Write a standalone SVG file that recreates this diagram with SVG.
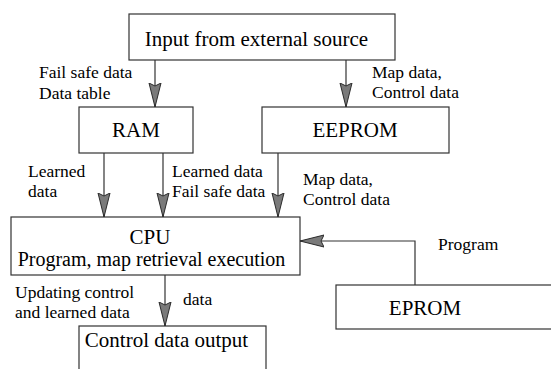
<svg xmlns="http://www.w3.org/2000/svg" width="551" height="369" viewBox="0 0 551 369" font-family="Liberation Serif, serif">
  <style>
    .box { fill: #ffffff; stroke: #333333; stroke-width: 1.2; }
    .conn { fill: none; stroke: #333333; stroke-width: 1.2; marker-end: url(#arrow); }
  </style>
  <defs>
    <marker id="arrow" markerUnits="userSpaceOnUse" markerWidth="26" markerHeight="14" refX="24" refY="7" orient="auto">
      <path d="M0,1 L24,7 L0,13 L3,7 Z" fill="#7a7a7a" stroke="#2a2a2a" stroke-width="1"/>
    </marker>
  </defs>
  <rect width="551" height="369" fill="#ffffff"/>

  <g id="input">
    <rect class="box" x="129" y="14" width="266" height="46"/>
    <text x="256.5" y="46" style="font-family: 'Liberation Serif'; font-size: 21px; text-anchor: middle">Input from external source</text>
  </g>
  <g id="ram">
    <rect class="box" x="79" y="107" width="114" height="46"/>
    <text x="136" y="137" style="font-family: 'Liberation Serif'; font-size: 21px; text-anchor: middle">RAM</text>
  </g>
  <g id="eeprom">
    <rect class="box" x="262" y="107" width="187" height="46"/>
    <text x="355" y="137" style="font-family: 'Liberation Serif'; font-size: 21px; text-anchor: middle">EEPROM</text>
  </g>
  <g id="cpu">
    <rect class="box" x="11" y="217" width="289" height="58"/>
    <text x="150" y="244" style="font-family: 'Liberation Serif'; font-size: 21px; text-anchor: middle">CPU</text>
    <text x="151.5" y="266" style="font-family: 'Liberation Serif'; font-size: 20px; text-anchor: middle">Program, map retrieval execution</text>
  </g>
  <g id="eprom">
    <rect class="box" x="336" y="285" width="225" height="44"/>
    <text x="425" y="315" style="font-family: 'Liberation Serif'; font-size: 21px; text-anchor: middle">EPROM</text>
  </g>
  <g id="output">
    <rect class="box" x="79" y="326" width="187" height="60"/>
    <text x="166.5" y="347" style="font-family: 'Liberation Serif'; font-size: 21px; text-anchor: middle">Control data output</text>
  </g>

  <g id="connectors">
    <path class="conn" d="M155,60 V107"/>
    <path class="conn" d="M346,60 V107"/>
    <path class="conn" d="M104,153 V217"/>
    <path class="conn" d="M163,153 V217"/>
    <path class="conn" d="M278,153 V217"/>
    <path class="conn" d="M415,285 V241 H300"/>
    <path class="conn" d="M165,275 V326"/>
  </g>

  <g id="labels">
    <text x="39" y="78" style="font-family: 'Liberation Serif'; font-size: 17.5px">Fail safe data</text>
    <text x="39" y="99" style="font-family: 'Liberation Serif'; font-size: 17.5px">Data table</text>
    <text x="372" y="78" style="font-family: 'Liberation Serif'; font-size: 17.5px">Map data,</text>
    <text x="372" y="98" style="font-family: 'Liberation Serif'; font-size: 17.5px">Control data</text>
    <text x="28" y="177" style="font-family: 'Liberation Serif'; font-size: 17.5px">Learned</text>
    <text x="28" y="197" style="font-family: 'Liberation Serif'; font-size: 17.5px">data</text>
    <text x="172" y="177" style="font-family: 'Liberation Serif'; font-size: 17.5px">Learned data</text>
    <text x="172" y="197" style="font-family: 'Liberation Serif'; font-size: 17.5px">Fail safe data</text>
    <text x="303" y="185" style="font-family: 'Liberation Serif'; font-size: 17.5px">Map data,</text>
    <text x="303" y="205" style="font-family: 'Liberation Serif'; font-size: 17.5px">Control data</text>
    <text x="438" y="250" style="font-family: 'Liberation Serif'; font-size: 17.5px">Program</text>
    <text x="15" y="298" style="font-family: 'Liberation Serif'; font-size: 17.5px">Updating control</text>
    <text x="15" y="318" style="font-family: 'Liberation Serif'; font-size: 17.5px">and learned data</text>
    <text x="183" y="305" style="font-family: 'Liberation Serif'; font-size: 17.5px">data</text>
  </g>
</svg>
